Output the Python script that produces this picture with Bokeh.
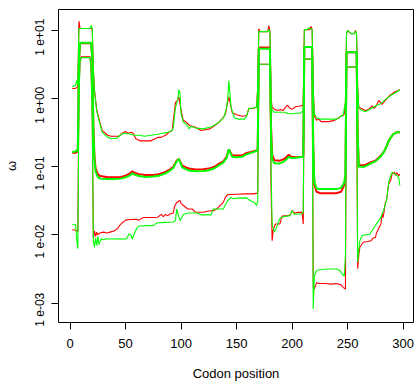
from bokeh.plotting import figure
from bokeh.models import Range1d, FixedTicker
from bokeh.embed import file_html
from bokeh.resources import INLINE

# ---------------- data (codon position, omega) ----------------
UPPER_RED_X = [2, 5, 7, 8, 9, 19, 20, 21, 22, 24, 27, 29, 34, 37, 44, 47, 50, 52, 55, 57, 59, 63, 67, 73, 77, 79, 82, 86, 89, 92,
               93, 95, 97, 98, 100, 102, 104, 108, 113, 118, 122, 126, 130, 134, 138, 140, 141, 143, 144, 146, 150, 155, 159, 161,
               165, 168, 169, 170, 171, 178, 179, 180, 181, 182, 184, 187, 190, 192, 194, 196, 198, 200, 203, 207, 210, 211, 216,
               217, 218, 219, 220, 222, 224, 226, 233, 238, 242, 244, 246, 247, 248, 249, 250, 253, 256, 257, 258, 259, 260, 262,
               266, 269, 272, 274, 276, 278, 281, 283, 285, 288, 290, 292, 295, 297]
UPPER_RED_Y = [1.41, 1.41, 1.5, 13.7, 10.7, 10.7, 10.5, 2.6, 1.35, 0.69, 0.44, 0.34, 0.29, 0.28, 0.28, 0.31, 0.33, 0.31, 0.32, 0.31,
               0.26, 0.24, 0.24, 0.24, 0.26, 0.27, 0.27, 0.29, 0.32, 0.34,
               0.48, 0.88, 0.95, 1.06, 0.67, 0.48, 0.46, 0.40, 0.38, 0.34, 0.35, 0.36, 0.40, 0.45, 0.53, 0.60, 0.75, 1.06, 0.9, 0.62,
               0.58, 0.55, 0.56, 0.71,
               0.72, 0.75, 1.47, 10.6, 9.6, 9.6, 11.8, 9.6, 1.0, 0.75, 0.70, 0.67, 0.69, 0.67, 0.75, 0.80, 0.72, 0.70, 0.76, 0.78,
               0.80, 10.3, 10.3,
               11.5, 10.3, 1.5, 0.56, 0.48, 0.50, 0.46, 0.46, 0.48, 0.52, 0.56, 0.56, 0.60, 0.90, 9.0, 10.0, 9.0, 9.0, 10.0, 9.0,
               1.5, 0.75, 0.72,
               0.67, 0.70, 0.78, 0.72, 0.80, 0.94, 0.82, 0.90, 0.98, 1.12, 1.17, 1.25, 1.30, 1.35]

UPPER_GREEN_X = [2, 5, 6, 7, 8, 18, 19, 20, 21, 22, 24, 27, 29, 34, 37, 42, 45, 48, 55, 58, 63, 67, 73, 79, 83, 88, 92, 93, 95, 97,
                 98, 99, 100, 102, 105, 107, 109, 113, 120, 128, 135, 139, 141, 142, 143, 145, 148, 152, 157, 159, 161, 165, 168,
                 169, 170, 171, 178, 179, 180, 181, 182, 184, 190, 194, 196, 200, 203, 207, 210, 211, 214, 215, 218, 219, 220, 222,
                 226, 233, 240, 244, 246, 248, 249, 250, 253, 256, 257, 258, 259, 260, 262, 266, 270, 275, 280, 285, 290, 293, 297]
UPPER_GREEN_Y = [1.5, 1.56, 1.85, 1.6, 10.7, 10.7, 11.8, 10.7, 2.7, 1.3, 0.65, 0.42, 0.32, 0.27, 0.26, 0.26, 0.29, 0.31, 0.30, 0.29,
                 0.29, 0.28, 0.29, 0.30, 0.31, 0.32, 0.34, 0.38, 0.75, 0.95,
                 1.35, 1.2, 0.60, 0.45, 0.42, 0.36, 0.39, 0.37, 0.36, 0.39, 0.46, 0.55, 0.75, 1.0, 1.84, 0.75, 0.52, 0.50, 0.50,
                 0.55, 0.72, 0.73, 0.75,
                 1.4, 9.8, 9.6, 9.6, 10.3, 9.6, 0.9, 0.68, 0.63, 0.63, 0.63, 0.60, 0.60, 0.61, 0.61, 0.66, 10.3, 10.3, 11.0, 10.3,
                 1.3, 0.60, 0.52,
                 0.50, 0.50, 0.50, 0.55, 0.58, 0.90, 9.0, 10.0, 9.0, 9.0, 9.8, 9.0, 1.4, 0.72, 0.68, 0.64, 0.70, 0.78, 0.85, 1.0,
                 1.14, 1.22, 1.35]

MID_RED_X = [2, 5, 7, 8, 9, 19, 20, 21, 22, 23, 25, 27, 33, 40, 46, 50, 54, 56, 58, 62, 68, 75, 80, 86, 90, 93, 96, 98, 101, 107,
             113, 120, 125, 130, 134, 138, 141, 143, 146, 150, 155, 159, 163, 168, 169, 170, 180, 181, 182, 184, 189, 193, 197,
             199, 203, 210, 211, 218, 219, 220, 222, 225, 240, 244, 246, 247, 248, 249, 258, 259, 260, 265, 270, 275, 280, 283,
             285, 287, 289, 291, 294, 297]
MID_RED_Y = [0.16, 0.16, 0.17, 3.5, 6.5, 6.5, 4.0, 0.4, 0.14, 0.095, 0.078, 0.073, 0.071, 0.070, 0.071, 0.074, 0.080, 0.086, 0.082,
             0.078, 0.076, 0.076, 0.078, 0.084, 0.092, 0.100, 0.123, 0.13, 0.104, 0.094,
             0.091, 0.092, 0.094, 0.100, 0.110, 0.120, 0.140, 0.180, 0.148, 0.146, 0.146, 0.160, 0.165, 0.173, 0.180, 5.6, 5.6,
             0.4, 0.15, 0.125, 0.123, 0.13, 0.15,
             0.14, 0.138, 0.14, 5.7, 5.7, 0.2, 0.055, 0.043, 0.041, 0.041, 0.043, 0.050, 0.055, 0.07, 4.8, 4.8, 0.3, 0.105, 0.105,
             0.115, 0.123, 0.146, 0.17,
             0.20, 0.24, 0.27, 0.30, 0.32, 0.32]

MID_GREEN_X = [2, 5, 6, 7, 8, 9, 19, 20, 21, 22, 23, 25, 27, 33, 40, 46, 50, 54, 56, 58, 62, 68, 75, 80, 86, 90, 93, 96, 98, 101,
               107, 113, 120, 125, 130, 134, 138, 141, 143, 146, 150, 155, 159, 163, 168, 169, 170, 180, 181, 182, 184, 189, 193,
               197, 199, 203, 210, 211, 218, 219, 220, 222, 225, 240, 244, 246, 247, 248, 249, 258, 259, 260, 265, 270, 275, 280,
               283, 285, 287, 289, 291, 294, 297]
MID_GREEN_Y = [0.165, 0.168, 0.178, 0.17, 3.5, 6.6, 6.6, 4.0, 0.35, 0.12, 0.085, 0.071, 0.067, 0.066, 0.066, 0.067, 0.070, 0.075,
               0.080, 0.077, 0.073, 0.071, 0.072, 0.074, 0.080, 0.088, 0.096, 0.120, 0.13, 0.098,
               0.088, 0.086, 0.087, 0.089, 0.095, 0.105, 0.115, 0.135, 0.180, 0.140, 0.138, 0.140, 0.153, 0.160, 0.170, 0.180, 5.4,
               5.4, 0.3, 0.13, 0.113, 0.112, 0.12,
               0.14, 0.135, 0.136, 0.14, 5.7, 5.7, 0.2, 0.06, 0.048, 0.047, 0.047, 0.049, 0.055, 0.060, 0.08, 4.8, 4.8, 0.3, 0.10,
               0.10, 0.11, 0.12, 0.143,
               0.168, 0.20, 0.24, 0.27, 0.30, 0.32, 0.32]

LOW_RED_X = [2, 5, 6, 7, 8, 9, 10, 18, 19, 20, 21, 22, 23, 24, 25, 27, 30, 33, 36, 40, 43, 45, 47, 50, 54, 59, 62, 66, 70, 75, 79,
             82, 84, 86, 88, 90, 93, 94, 96, 99, 100, 102, 106, 110, 113, 120, 125, 129, 132, 135, 138, 140, 142, 150, 158, 165,
             169, 170, 180, 181, 182, 183, 185, 189, 191, 196, 198, 200, 202, 205, 209, 210, 211, 218, 219, 220, 222, 224, 230,
             235, 240, 244, 246, 248, 249, 258, 259, 260, 261, 264, 268, 271, 273, 275, 276, 278, 280, 281, 282, 284, 285, 287,
             289, 290, 292, 293, 294, 296, 297]
LOW_RED_Y = [0.0119, 0.0117, 0.0115, 0.0110, 1.2, 3.5, 4.1, 4.1, 2.5, 0.5, 0.0088, 0.0115, 0.0095, 0.0110, 0.0100, 0.0107, 0.0110,
             0.0107, 0.0110, 0.0115, 0.0125, 0.0140, 0.0150, 0.0165, 0.0168, 0.0170, 0.0165, 0.0180, 0.0180, 0.0180, 0.0182,
             0.0200, 0.0185, 0.0200, 0.0192, 0.0203, 0.0210, 0.026, 0.030, 0.032, 0.029, 0.027, 0.024, 0.024, 0.0215, 0.0215,
             0.0225, 0.0227, 0.024, 0.027, 0.030, 0.036, 0.039, 0.0395, 0.040, 0.040,
             0.041, 3.2, 3.2, 0.05, 0.0082, 0.012, 0.0145, 0.0145, 0.019, 0.0192, 0.0195, 0.0227, 0.021, 0.0214, 0.0214, 0.0145,
             3.8, 3.8, 0.0017, 0.00161, 0.0020, 0.00194, 0.00194,
             0.0019, 0.00194, 0.00185, 0.0017, 0.0016, 2.9, 2.9, 0.0032, 0.005, 0.0066, 0.0078, 0.0080, 0.0082, 0.0090, 0.0092,
             0.0107, 0.0125, 0.0145, 0.0200, 0.0180, 0.030, 0.032, 0.056,
             0.065, 0.079, 0.083, 0.075, 0.082, 0.074, 0.078]

LOW_GREEN_X = [2, 5, 6, 7, 8, 9, 10, 18, 19, 20, 21, 22, 23, 24, 25, 26, 28, 30, 33, 37, 45, 51, 53, 55, 56, 58, 60, 62, 70, 74,
               76, 78, 85, 93, 95, 96, 97, 99, 102, 106, 114, 118, 127, 129, 138, 140, 142, 145, 147, 152, 159, 162, 166, 168,
               169, 170, 180, 181, 182, 183, 184, 186, 189, 192, 198, 200, 202, 205, 209, 210, 211, 218, 219, 220, 222, 224, 230,
               240, 243, 245, 247, 248, 249, 258, 259, 260, 261, 263, 270, 273, 276, 280, 283, 285, 287, 289, 290, 292, 294, 296,
               297]
LOW_GREEN_Y = [0.0141, 0.0141, 0.0085, 0.0063, 1.0, 3.4, 4.0, 4.0, 2.5, 0.5, 0.0080, 0.0066, 0.0090, 0.0070, 0.0095, 0.0072,
               0.0088, 0.0085, 0.0088, 0.0087, 0.0088, 0.0087, 0.0103, 0.0100, 0.0087, 0.0105, 0.0125, 0.0135, 0.0137, 0.0137,
               0.0140, 0.0150, 0.0153, 0.0155, 0.0165, 0.024, 0.021, 0.0162, 0.0200, 0.0210, 0.0210, 0.0197, 0.0197, 0.0240,
               0.0240, 0.028, 0.032, 0.0356, 0.034, 0.0347, 0.035, 0.032, 0.030, 0.027,
               0.031, 3.2, 3.2, 0.1, 0.014, 0.0125, 0.011, 0.0129, 0.0175, 0.0185, 0.0192, 0.0227, 0.0200, 0.0203, 0.0203, 0.022,
               3.8, 3.8, 0.00082, 0.0025, 0.0030, 0.00305, 0.00316,
               0.00316, 0.0030, 0.00267, 0.0025, 0.005, 2.9, 2.9, 0.004, 0.0060, 0.0082, 0.0098, 0.0103, 0.0122, 0.0145, 0.0181,
               0.0250, 0.032, 0.060, 0.075, 0.083, 0.080, 0.075, 0.070,
               0.053]

X_TICKS = [0, 50, 100, 150, 200, 250, 300]
Y_TICKS = [0.001, 0.01, 0.1, 1.0, 10.0]
Y_TICK_LABELS = ["1 e-03", "1 e-02", "1 e-01", "1 e+00", "1 e+01"]
X_LABEL = "Codon position"
Y_LABEL = "ω"

RED = "#FF0000"
GREEN = "#00FF00"
FONT = "Liberation Sans"
PAD = "\u00a0" * 4  # shifts the rotated labels so the exponent sits on the tick, as in the original

p = figure(width=414, height=383, output_backend="svg", toolbar_location=None,
           y_axis_type="log",
           x_range=Range1d(-10.4, 309.3), y_range=Range1d(5.19e-4, 20.3),
           min_border_left=58, min_border_right=1, min_border_top=9, min_border_bottom=61)

p.background_fill_color = "white"
p.border_fill_color = "white"
p.outline_line_color = "black"
p.outline_line_width = 1
p.xgrid.visible = False
p.ygrid.visible = False

series = [
    (UPPER_RED_X, UPPER_RED_Y, RED, 1.1),
    (MID_RED_X, MID_RED_Y, RED, 2.0),
    (LOW_RED_X, LOW_RED_Y, RED, 1.1),
    (UPPER_GREEN_X, UPPER_GREEN_Y, GREEN, 1.1),
    (MID_GREEN_X, MID_GREEN_Y, GREEN, 2.0),
    (LOW_GREEN_X, LOW_GREEN_Y, GREEN, 1.1),
]
for xs, ys, col, lw in series:
    p.line(xs, ys, line_color=col, line_width=lw)

xa = p.xaxis[0]
xa.ticker = FixedTicker(ticks=X_TICKS)
xa.axis_label = X_LABEL
xa.axis_line_color = None
xa.major_tick_out = 7
xa.major_tick_in = 0
xa.minor_tick_line_color = None
xa.major_label_text_font = FONT
xa.major_label_text_font_size = "13px"
xa.major_label_text_color = "black"
xa.major_label_standoff = 9
xa.axis_label_text_font = FONT
xa.axis_label_text_font_size = "13px"
xa.axis_label_text_font_style = "normal"
xa.axis_label_text_color = "black"
xa.axis_label_standoff = 15

ya = p.yaxis[0]
ya.ticker = FixedTicker(ticks=Y_TICKS)
ya.major_label_overrides = {t: lab + PAD for t, lab in zip(Y_TICKS, Y_TICK_LABELS)}
ya.major_label_orientation = "vertical"
ya.axis_label = Y_LABEL
ya.axis_line_color = None
ya.major_tick_out = 7
ya.major_tick_in = 0
ya.minor_tick_line_color = None
ya.major_label_text_font = FONT
ya.major_label_text_font_size = "12px"
ya.major_label_text_color = "black"
ya.major_label_standoff = 4
ya.axis_label_text_font = FONT
ya.axis_label_text_font_size = "13px"
ya.axis_label_text_font_style = "normal"
ya.axis_label_text_color = "black"
ya.axis_label_standoff = 12

open("out.html", "w").write(file_html(p, INLINE))
